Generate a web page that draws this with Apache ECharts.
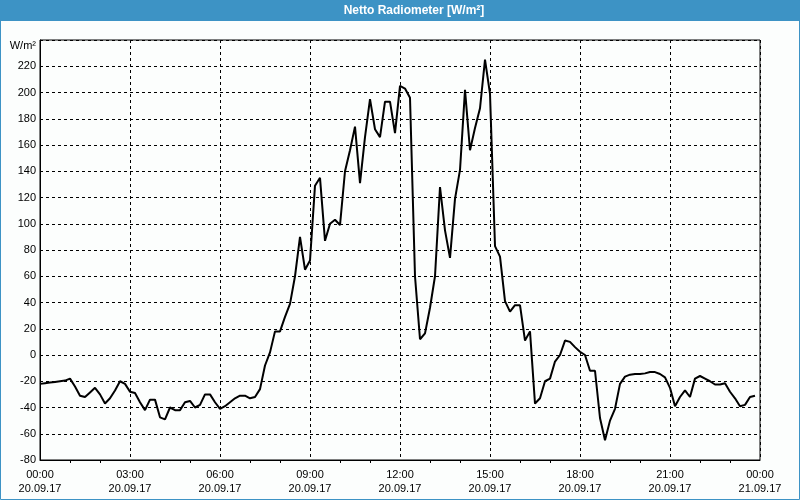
<!DOCTYPE html>
<html>
<head>
<meta charset="utf-8">
<script src="https://cdn.jsdelivr.net/npm/echarts@6/dist/echarts.min.js"></script>
<style>
html,body{margin:0;padding:0;background:#fcfefd;}
#c{width:800px;height:500px;}
</style>
</head>
<body>
<div id="c"></div>
<script>
// time in minutes since 20.09.17 00:00
var minutes = [];
for (var i = 0; i < 144; i++) minutes.push(i * 10);

var netRadiation = [
  -22, -21.5, -21, -20.5, -20, -19.5, -18, -24, -31, -32,
  -28.5, -25, -30, -37, -33, -27, -20, -22, -28, -29,
  -36, -42, -34, -34, -47.5, -49, -40, -42, -42, -36,
  -35, -40, -38, -30, -30, -36, -41, -39, -36, -33,
  -31, -31, -33, -32, -26, -8, 2, 18, 18, 29,
  39, 60, 90, 65, 72, 129, 135, 87, 100, 103,
  99, 140, 156, 174, 131, 166, 195, 172, 166, 193,
  193, 169, 205, 203, 196, 60, 12, 16.5, 36, 60,
  128, 95, 74, 119, 141, 202, 156, 173, 188, 225,
  199, 83, 75, 41, 33, 38, 38, 11, 18, -37,
  -33, -20, -18, -5, 0, 11, 10, 6, 2.5, 0,
  -12, -12, -48, -65, -50, -41, -22, -16.5, -15, -14.5,
  -14.5, -14, -13, -13, -14.5, -17, -25, -39, -32, -27,
  -32, -18, -16, -18, -20, -22.5, -22.5, -21.5, -28, -33,
  -39, -38, -32, -31
];

var xTickTimes = ['00:00', '03:00', '06:00', '09:00', '12:00', '15:00', '18:00', '21:00', '00:00'];
var xTickDates = ['20.09.17', '20.09.17', '20.09.17', '20.09.17', '20.09.17', '20.09.17', '20.09.17', '20.09.17', '21.09.17'];

var titleText = 'Netto Radiometer [W/m²]';
var unitText = 'W/m²';

var seriesData = minutes.map(function (m, i) { return [m, netRadiation[i]]; });

var chart = echarts.init(document.getElementById('c'), null, {renderer: 'canvas'});
var font = 'Liberation Sans';
chart.setOption({
  animation: false,
  backgroundColor: '#fcfefd',
  textStyle: {fontFamily: font},
  graphic: [
    {type: 'rect', shape: {x: 0, y: 0, width: 800, height: 21}, style: {fill: '#3d93c5'}, silent: true, z: 0},
    {type: 'rect', shape: {x: 0.5, y: 0.5, width: 799, height: 499}, style: {fill: null, stroke: '#3d93c5', lineWidth: 1}, silent: true, z: 0},
    {type: 'text', x: 414, y: 11, style: {text: titleText, fill: '#ffffff', font: 'bold 12px "Liberation Sans"', align: 'center', verticalAlign: 'middle'}, silent: true, z: 1}
  ],
  grid: {left: 40, right: 40, top: 40, bottom: 40, show: true, borderColor: '#000', borderWidth: 1, backgroundColor: 'transparent'},
  xAxis: {
    type: 'value', min: 0, max: 1440, interval: 180,
    axisLine: {show: true, onZero: false, lineStyle: {color: '#000', width: 1}},
    axisTick: {show: false},
    minorTick: {show: true, splitNumber: 3, length: 3, lineStyle: {color: '#000'}},
    splitLine: {show: true, lineStyle: {color: '#000', type: [3, 3], width: 1}},
    axisLabel: {
      color: '#000', fontSize: 11, fontFamily: font, margin: 8, lineHeight: 14,
      showMinLabel: true, showMaxLabel: true,
      formatter: function (v) { var k = Math.round(v / 180); return xTickTimes[k] + '\n' + xTickDates[k]; }
    }
  },
  yAxis: {
    type: 'value', min: -80, max: 240, interval: 20,
    name: unitText, nameLocation: 'end', nameGap: -6,
    nameTextStyle: {color: '#000', fontSize: 11, fontFamily: font, align: 'right', verticalAlign: 'middle', padding: [0, 4, 0, 0]},
    axisLine: {show: true, onZero: false, lineStyle: {color: '#000', width: 1}},
    axisTick: {show: false},
    splitLine: {show: true, lineStyle: {color: '#000', type: [3, 3], width: 1}},
    axisLabel: {
      color: '#000', fontSize: 11, fontFamily: font, margin: 4,
      formatter: function (v) { return v === 240 ? '' : String(v); }
    }
  },
  series: [{
    type: 'line', data: seriesData, showSymbol: false, symbol: 'none',
    lineStyle: {color: '#000', width: 2}, z: 5
  }]
});
</script>
</body>
</html>
